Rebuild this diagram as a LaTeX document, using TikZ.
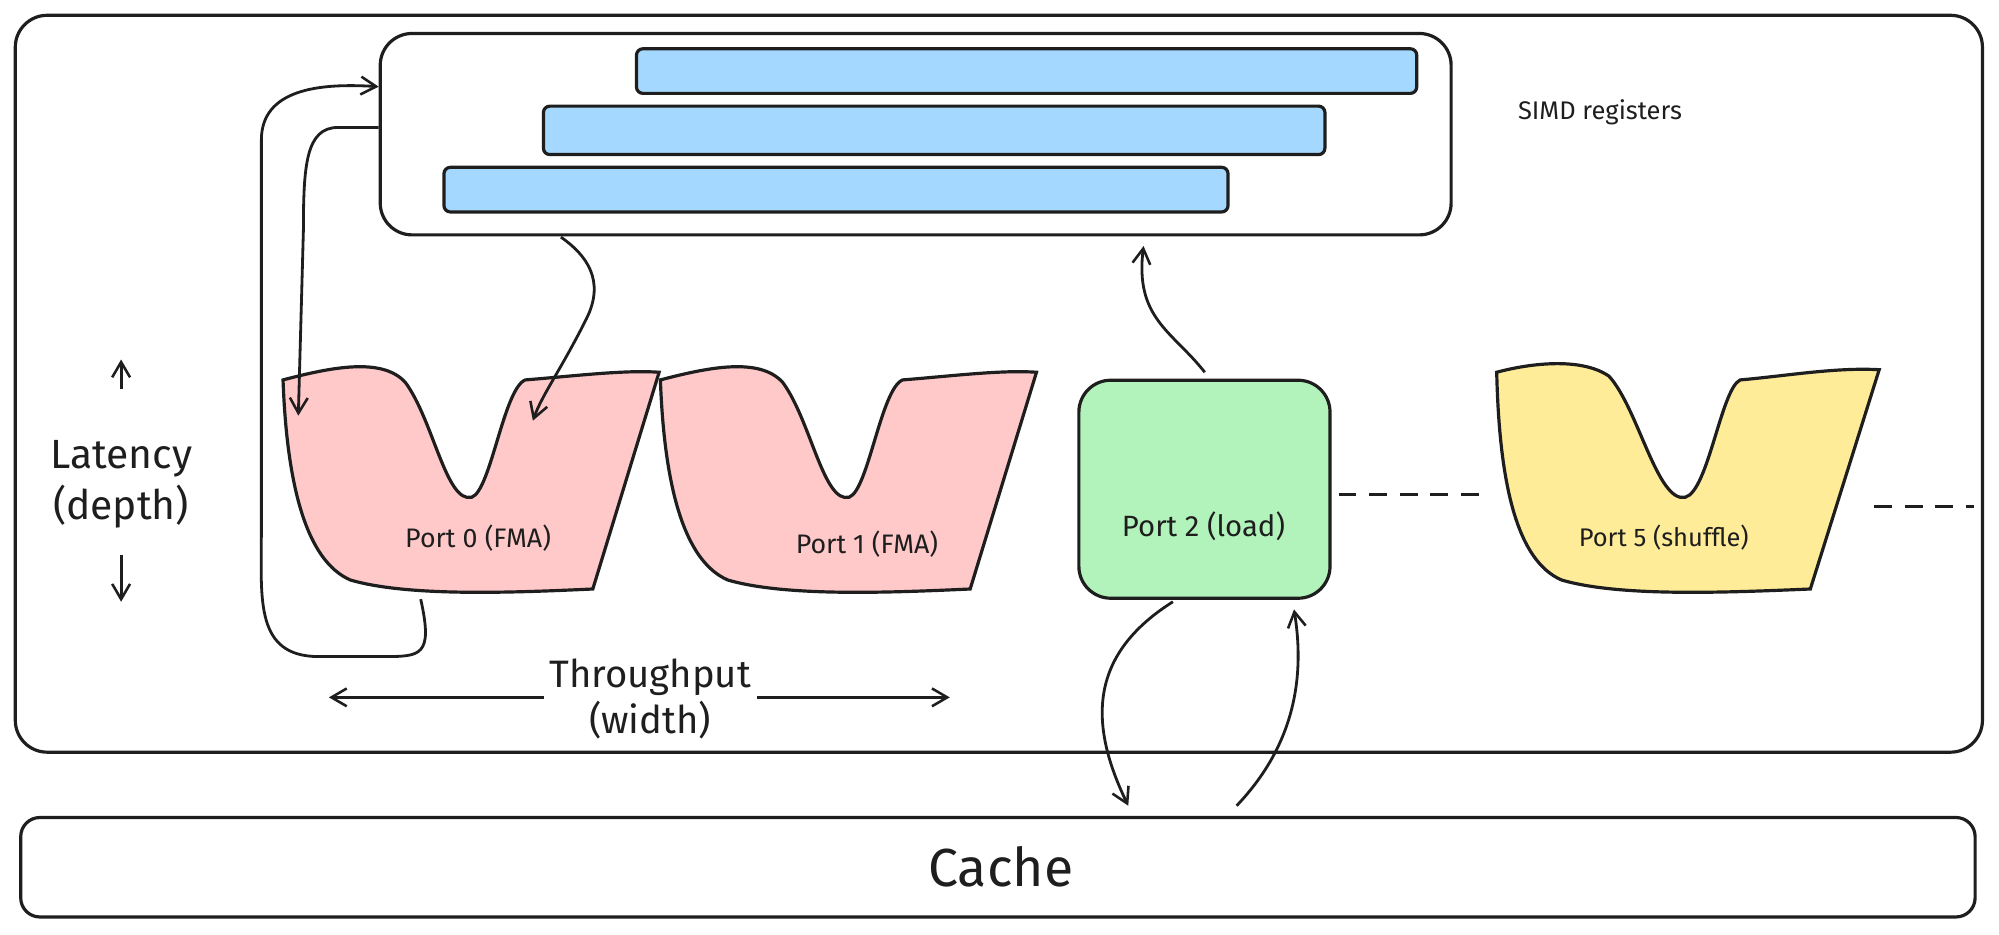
\documentclass[tikz,border=0pt]{standalone}
\usepackage{fontspec}
\setmainfont{Fira Sans}
\usetikzlibrary{arrows.meta}
\definecolor{bluef}{HTML}{A5D8FF}
\definecolor{redf}{HTML}{FFC9C9}
\definecolor{greenf}{HTML}{B2F2BB}
\definecolor{yellowf}{HTML}{FFEC99}
\definecolor{ink}{HTML}{1E1E1E}
\begin{document}
\begin{tikzpicture}[x=1pt,y=-1pt,line width=2.5pt,draw=ink,
  box/.style={draw=ink,rounded corners=25pt},
  bar/.style={draw=ink,fill=bluef,rounded corners=5pt},
  lbl/.style={font=\fontsize{21}{25}\selectfont,text=ink},
  arr/.style={-{Straight Barb[length=12pt,width=14pt,line width=2pt]},line width=2.2pt,draw=ink},
  vshape/.style={draw=ink,line width=2.5pt}]
\useasboundingbox (0,0) rectangle (1568,733);
\draw[box] (12,12) rectangle (1555,590);
\node[box,minimum width=840pt,minimum height=158pt,anchor=north west] (simd) at (297,25) {};
\node[bar,minimum width=612pt,minimum height=35pt,anchor=north west,inner sep=0] (r1) at (498,37) {};
\node[bar,minimum width=613pt,minimum height=38pt,anchor=north west,inner sep=0] (r2) at (425,82) {};
\node[bar,minimum width=615pt,minimum height=35pt,anchor=north west,inner sep=0] (r3) at (347,130) {};
\node[lbl,font=\fontsize{20}{24}\selectfont] (simdl) at (1255,88) {SIMD registers};
% ports
\foreach \dx/\nm/\col in {0/p0/redf,296/p1/redf}{
 \begin{scope}[xshift=\dx pt]
  \draw[vshape,fill=\col] (222,298) .. controls (260,288) and (300,280) .. (318,300)
   .. controls (340,330) and (350,395) .. (370,390)
   .. controls (385,385) and (395,305) .. (412,298)
   .. controls (450,295) and (490,290) .. (517,292)
   -- (465,462) .. controls (400,465) and (320,468) .. (275,455)
   .. controls (240,440) and (225,380) .. (222,298) -- cycle;
 \end{scope}}
\node[lbl] (p0) at (375,422) {Port 0 (FMA)};
\node[lbl] (p1) at (680,427) {Port 1 (FMA)};
\node[draw=ink,fill=greenf,rounded corners=25pt,minimum width=197pt,minimum height=171pt,anchor=north west] (p2box) at (845,297) {};
\node[lbl,font=\fontsize{23}{27}\selectfont] (p2) at (944,413) {Port 2 (load)};
\draw[vshape,fill=yellowf] (1174,292) .. controls (1200,285) and (1240,280) .. (1262,295)
   .. controls (1285,320) and (1300,395) .. (1322,390)
   .. controls (1340,385) and (1350,305) .. (1365,298)
   .. controls (1400,295) and (1440,288) .. (1474,290)
   -- (1420,462) .. controls (1350,465) and (1270,468) .. (1225,455)
   .. controls (1190,440) and (1176,380) .. (1174,292) -- cycle;
\node[lbl,font=\fontsize{20}{24}\selectfont] (p5) at (1305,422) {Port 5 (shuffle)};
\coordinate (d1a) at (1050,388); \coordinate (d1b) at (1165,388);
\coordinate (d2a) at (1470,397); \coordinate (d2b) at (1548,397);
\draw[dash pattern=on 14pt off 10pt] (d1a) -- (d1b);
\draw[dash pattern=on 14pt off 10pt] (d2a) -- (d2b);
\node[draw=ink,rounded corners=15pt,minimum width=1533pt,minimum height=78pt,anchor=north west] (cache) at (15,640) {};
\node[text=ink,font=\fontsize{42}{50}\selectfont] (cachel) at (785,680) {Cache};
\node[text=ink,font=\fontsize{32}{40}\selectfont,align=center] (lat) at (95,380) {Latency\\(depth)};
\coordinate (la1) at (95,305); \coordinate (la2) at (95,282);
\coordinate (lb1) at (95,435); \coordinate (lb2) at (95,472);
\draw[arr] (la1) -- (la2);
\draw[arr] (lb1) -- (lb2);
\node[text=ink,font=\fontsize{30}{36}\selectfont,align=center] (thr) at (510,548) {Throughput\\(width)};
\coordinate (ta) at (258,547); \coordinate (tb) at (745,547);
\draw[arr] (thr.west |- 0,547) -- (ta);
\draw[arr] (thr.east |- 0,547) -- (tb);
% flow arrows
\coordinate (c1) at (330,470); \coordinate (c2) at (297,68);
\draw[arr] (c1) .. controls (340,515) and (330,515) .. (300,515) -- (250,515)
  .. controls (200,515) and (205,470) .. (205,420) -- (205,110)
  .. controls (205,70) and (250,65) .. (c2);
\coordinate (c3) at (297,100); \coordinate (c4) at (234,326);
\draw[arr] (c3) -- (265,100) .. controls (240,100) and (238,130) .. (238,180) -- (c4);
\coordinate (c5) at (440,186); \coordinate (c6) at (418,330);
\draw[arr] (c5) .. controls (460,200) and (475,220) .. (460,250) .. controls (440,290) and (425,310) .. (c6);
\coordinate (c7) at (945,292); \coordinate (c8) at (897,193);
\draw[arr] (c7) .. controls (920,260) and (890,250) .. (c8);
\coordinate (c9) at (920,472); \coordinate (c10) at (885,632);
\draw[arr] (c9) .. controls (860,510) and (850,560) .. (c10);
\coordinate (c11) at (970,632); \coordinate (c12) at (1015,478);
\draw[arr] (c11) .. controls (1010,590) and (1025,540) .. (c12);
\end{tikzpicture}
\end{document}
